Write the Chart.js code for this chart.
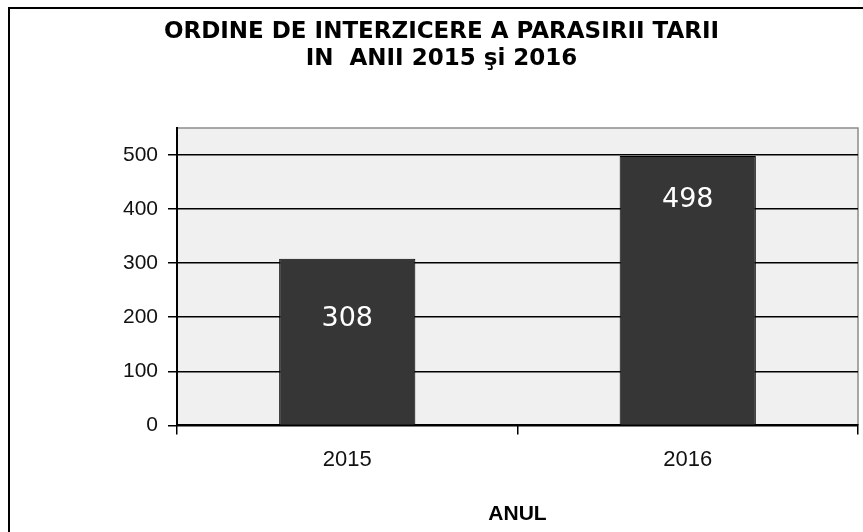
<!DOCTYPE html>
<html>
<head>
<meta charset="utf-8">
<script src="https://cdn.jsdelivr.net/npm/chart.js@4/dist/chart.umd.min.js"></script>
<style>
  html, body { margin: 0; padding: 0; background: #fff; }
  #wrap { position: relative; width: 863px; height: 532px; overflow: hidden; }
  #frame { position: absolute; left: 8px; top: 7px; width: 900px; height: 600px;
           border-left: 2px solid #000; border-top: 2px solid #000; }
  #chart { position: absolute; left: 0; top: 0; }
</style>
</head>
<body>
<div id="wrap">
  <div id="frame"></div>
  <canvas id="chart" width="863" height="532"></canvas>
</div>
<script>
// data
const years = ['2015', '2016'];
const orders = [308, 498];
const yTicks = [0, 100, 200, 300, 400, 500];
const titleLines = ['ORDINE DE INTERZICERE A PARASIRII TARII', 'IN  ANII 2015 şi 2016'];

// grey plot background + light border on top/right
const plotBg = {
  id: 'plotBg',
  beforeDraw(chart) {
    const { ctx, chartArea: a } = chart;
    ctx.save();
    ctx.fillStyle = '#f0f0f0';
    ctx.fillRect(a.left, a.top, a.right - a.left, a.bottom - a.top);
    ctx.strokeStyle = '#8c8c8c';
    ctx.lineWidth = 1.5;
    ctx.beginPath();
    ctx.moveTo(a.left, a.top);
    ctx.lineTo(a.right, a.top);
    ctx.lineTo(a.right, a.bottom);
    ctx.stroke();
    ctx.restore();
  }
};

// white value labels inside the bars
const barLabels = {
  id: 'barLabels',
  afterDatasetsDraw(chart, args, opts) {
    const { ctx } = chart;
    const meta = chart.getDatasetMeta(0);
    ctx.save();
    ctx.fillStyle = '#fff';
    ctx.font = '27px "DejaVu Sans", sans-serif';
    ctx.textAlign = 'center';
    ctx.textBaseline = 'middle';
    meta.data.forEach((bar, i) => {
      ctx.fillText(String(orders[i]), bar.x, bar.y + opts.offsets[i]);
    });
    ctx.restore();
  }
};

new Chart(document.getElementById('chart'), {
  type: 'bar',
  data: {
    labels: years,
    datasets: [{
      data: orders,
      backgroundColor: '#363636',
      borderColor: '#000',
      borderWidth: 1,
      barPercentage: 0.4,
      categoryPercentage: 1
    }]
  },
  options: {
    responsive: false,
    animation: false,
    layout: { padding: { top: 4, left: 25, right: 5, bottom: 0 } },
    plugins: {
      legend: { display: false },
      tooltip: { enabled: false },
      title: {
        display: true,
        text: titleLines,
        color: '#000',
        font: { family: '"DejaVu Sans", sans-serif', size: 23, weight: 'bold', lineHeight: 1.15 },
        padding: { top: 15, bottom: 56 }
      },
      barLabels: { offsets: [60, 44] }
    },
    scales: {
      x: {
        offset: true,
        grid: { offset: true, drawOnChartArea: false, drawTicks: true, tickLength: 9, color: '#000', lineWidth: 1.5 },
        border: { color: '#000', width: 2 },
        ticks: { color: '#111', padding: 12, font: { family: '"Liberation Sans", Arial, sans-serif', size: 22 } },
        title: {
          display: true,
          text: 'ANUL',
          color: '#000',
          font: { family: '"Liberation Sans", Arial, sans-serif', size: 21, weight: 'bold', lineHeight: 1.2 },
          padding: { top: 17, bottom: 5 }
        }
      },
      y: {
        min: 0,
        max: 550,
        afterBuildTicks(scale) { scale.ticks = yTicks.map(v => ({ value: v })); },
        afterFit(scale) { scale.width = 152; },
        grid: { color: '#000', lineWidth: 1.5, tickLength: 9 },
        border: { color: '#000', width: 2 },
        ticks: { color: '#111', padding: 10, font: { family: '"Liberation Sans", Arial, sans-serif', size: 21 } }
      }
    }
  },
  plugins: [plotBg, barLabels]
});
</script>
</body>
</html>
